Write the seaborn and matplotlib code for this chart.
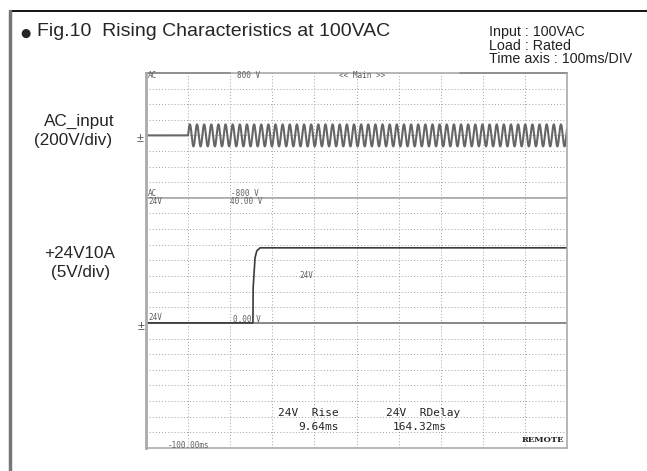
import numpy as np
import pandas as pd
import seaborn as sns
import matplotlib.pyplot as plt

t_min_ms, t_max_ms = -100, 900          # 100 ms/div, 10 divisions
ac_on_ms = 0                            # AC switched on
ac_peak_v = 141                         # 100 VAC rms
ac_freq_hz = 59
out_t_ms = [-100, 154, 154.5, 159, 163, 171, 900]
out_v = [0, 0, 11.2, 20.8, 23.0, 24, 24]
ac_vdiv = 200
out_vdiv = 5

sns.set_style("white")
plt.rcParams['font.family'] = ['Liberation Sans', 'DejaVu Sans']

W, H = 647, 471
fig = plt.figure(figsize=(W / 100, H / 100), dpi=100)


def px(x, y):
    return x / W, 1 - y / H


def ftext(x, y, s, **kw):
    kw.setdefault('va', 'center')
    fig.text(*px(x, y), s, **kw)


# scope geometry (pixels)
L, R, T, MID, B = 146, 567, 73, 197.8, 448
ax_ac = fig.add_axes([L / W, 1 - MID / H, (R - L) / W, (MID - T) / H])
ax_out = fig.add_axes([L / W, 1 - B / H, (R - L) / W, (B - MID) / H])

# AC trace
t = np.linspace(t_min_ms, t_max_ms, 20000)
v = np.where(t >= ac_on_ms, ac_peak_v * np.sin(2 * np.pi * ac_freq_hz * (t - ac_on_ms) / 1000), 0)
ac_df = pd.DataFrame({'t': t, 'v': v})
sns.lineplot(data=ac_df, x='t', y='v', ax=ax_ac, color='#666666', lw=1.5, estimator=None, sort=False)

out_df = pd.DataFrame({'t': out_t_ms, 'v': out_v})
sns.lineplot(data=out_df, x='t', y='v', ax=ax_out, color='#3a3a3a', lw=1.2, estimator=None, sort=False)
ax_out.axhline(0, color='#888888', lw=1.4, zorder=1)

grid_kw = dict(color='#a0a0a0', lw=0.7, linestyle=(0, (1, 2.2)))
for ax, vdiv, ndiv in [(ax_ac, ac_vdiv, 8), (ax_out, out_vdiv, 16)]:
    half = vdiv * ndiv / 2
    ax.set_xlim(t_min_ms, t_max_ms)
    ax.set_ylim(-half, half)
    ax.set_xticks(np.arange(t_min_ms + 100, t_max_ms, 100))
    ax.set_yticks(np.arange(-half + vdiv, half, vdiv))
    ax.grid(True, **grid_kw)
    ax.tick_params(length=0, labelbottom=False, labelleft=False)
    ax.set_xlabel('')
    ax.set_ylabel('')
    for s in ax.spines.values():
        s.set_color('#aaaaaa')
        s.set_linewidth(1.2)
    ax.spines['left'].set_linewidth(2)

# darker partial border along the top
ax_ac.axhline(800, xmin=0, xmax=0.2, color='black', lw=1.3, clip_on=False)
ax_ac.axhline(800, xmin=0.745, xmax=1, color='black', lw=1.3, clip_on=False)

# outer frame
fig.add_artist(plt.Line2D([10 / W, 1], [1 - 11 / H] * 2, color='black', lw=1.3))
fig.add_artist(plt.Line2D([10 / W] * 2, [1 - 11 / H, 0], color='#777777', lw=2.5))

# header
ftext(20, 33, '\u25CF', fontsize=8.5, family='DejaVu Sans')
ftext(37, 31, 'Fig.10  Rising Characteristics at 100VAC', fontsize=14)
for i, s in enumerate(['Input : 100VAC', 'Load : Rated', 'Time axis : 100ms/DIV']):
    ftext(489, 32 + i * 13.5, s, fontsize=10.3, color='#222222')

# channel labels
lab = dict(fontsize=12.3, ha='right')
ftext(115, 121, 'AC_input', **lab)
ftext(112, 141, '(200V/div)', **lab)
ftext(115, 253, '+24V10A', **lab)
ftext(110, 273, '(5V/div)', **lab)
ftext(140, 139, '\u00b1', fontsize=9, color='#555555', ha='center')
ftext(141, 327, '\u00b1', fontsize=9, color='#555555', ha='center')

# scope annotations
mono = dict(family='DejaVu Sans Mono', color='#606060', fontsize=5.5)
ftext(148, 76, 'AC', **mono)
ftext(237, 76, '800 V', **mono)
ftext(339, 76, '<< Main >>', **mono)
ftext(148, 193, 'AC', **mono)
ftext(231, 193, '-800 V', **mono)
ftext(148, 202, '24V', **mono)
ftext(230, 202, '40.00 V', **mono)
ftext(148, 318, '24V', **mono)
ftext(233, 319, '0.00 V', **mono)
ftext(299, 275, '24V', **mono)
ftext(168, 445, '-100.00ms', **mono)

big = dict(family='DejaVu Sans Mono', color='#222222', fontsize=8)
ftext(278, 413, '24V  Rise', **big)
ftext(298, 427, '9.64ms', **big)
ftext(386, 413, '24V  RDelay', **big)
ftext(393, 427, '164.32ms', **big)
ftext(522, 440, 'REMOTE', family='DejaVu Serif', fontsize=6, fontweight='bold', color='#222222')

fig.savefig('out.png', dpi=100)
